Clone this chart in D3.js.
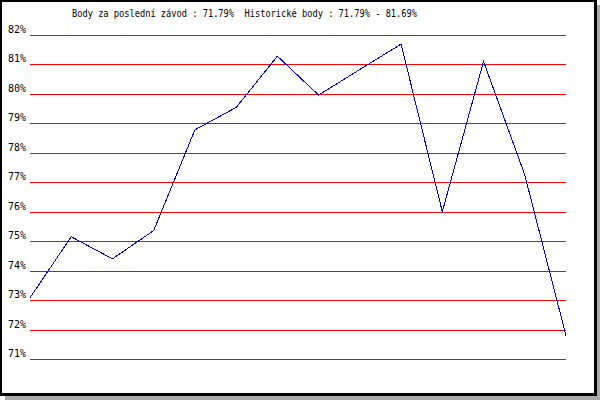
<!DOCTYPE html>
<html>
<head>
<meta charset="utf-8">
<script src="https://cdn.jsdelivr.net/npm/d3@7"></script>
<style>
  html, body { margin: 0; padding: 0; background: #fff; }
  svg { display: block; }
  .title { white-space: pre; }
</style>
</head>
<body>
<svg id="chart" width="600" height="400"></svg>
<script>
const titleText = "Body za poslední závod : 71.79%  Historické body : 71.79% - 81.69%";
const races = [1, 2, 3, 4, 5, 6, 7, 8, 9, 10, 11, 12, 13, 14];
const points = [73.08, 75.15, 74.40, 75.36, 78.78, 79.54, 81.28, 79.96, 80.83, 81.69, 76.00, 81.10, 77.25, 71.79];
const tickValues = [71, 72, 73, 74, 75, 76, 77, 78, 79, 80, 81, 82];

const svg = d3.select("#chart");

// frame with shadow
svg.append("rect").attr("x", 5).attr("y", 5).attr("width", 595).attr("height", 395).attr("fill", "#aaaaaa");
svg.append("rect").attr("x", 0).attr("y", 0).attr("width", 597).attr("height", 396).attr("fill", "#000");
svg.append("rect").attr("x", 2).attr("y", 2).attr("width", 592).attr("height", 391).attr("fill", "#fff");

const x = d3.scalePoint().domain(races).range([30, 566]);
const y = d3.scaleLinear().domain([71, 82]).range([359, 35]);

// title
svg.append("text")
  .attr("class", "title")
  .attr("xml:space", "preserve")
  .attr("x", 72).attr("y", 17)
  .attr("font-family", "DejaVu Sans Mono, monospace")
  .attr("font-size", 11)
  .attr("textLength", 345)
  .attr("lengthAdjust", "spacingAndGlyphs")
  .attr("fill", "#000")
  .text(titleText);

// y axis with gridlines
const axis = d3.axisLeft(y)
  .tickValues(tickValues)
  .tickSize(-536)
  .tickPadding(4)
  .tickFormat(d => d + "%");

const g = svg.append("g").attr("transform", "translate(30,0)").call(axis);
g.select(".domain").remove();
g.selectAll(".tick").attr("transform", d => `translate(0,${Math.round(y(d)) + 0.5})`);
g.selectAll(".tick line").attr("stroke", "#ff0000").attr("stroke-width", 1).attr("shape-rendering", "crispEdges");
g.selectAll(".tick text")
  .attr("font-family", "DejaVu Sans Mono, monospace")
  .attr("font-size", 11)
  .attr("fill", "#000")
  .attr("x", -4)
  .attr("dy", "-2.5")
  .attr("textLength", 18)
  .attr("lengthAdjust", "spacingAndGlyphs");

// line
const line = d3.line().x((d, i) => x(races[i])).y(d => y(d));
svg.append("path")
  .datum(points)
  .attr("d", line)
  .attr("fill", "none")
  .attr("stroke", "#0000cc")
  .attr("stroke-width", 1)
  .attr("shape-rendering", "crispEdges");
</script>
</body>
</html>
